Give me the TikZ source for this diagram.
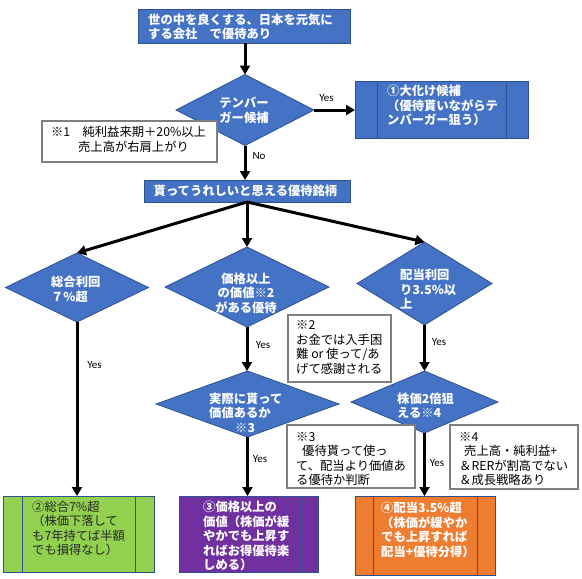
\documentclass[tikz,border=0pt]{standalone}
\usepackage{fontspec}
\setmainfont{Noto Sans CJK JP}
\newfontfamily\latfont{Carlito}
\usetikzlibrary{shapes.geometric,arrows.meta}
\definecolor{fblue}{HTML}{4472C4}
\definecolor{bblue}{HTML}{2F528F}
\definecolor{fgreen}{HTML}{92D050}
\definecolor{fpurple}{HTML}{7030A0}
\definecolor{forange}{HTML}{ED7D31}
\definecolor{ngray}{HTML}{7F7F7F}
\newcommand\jfs{\fontsize{12.3}{14.5}\selectfont}
\begin{document}
\begin{tikzpicture}[x=1pt,y=-1pt,
  bluebox/.style={rectangle, draw=bblue, line width=1pt, fill=fblue, inner sep=0pt, outer sep=0pt},
  dia/.style={diamond, draw=bblue, line width=0.8pt, fill=fblue, inner sep=0pt, outer sep=0pt},
  note/.style={rectangle, draw=ngray, line width=1.3pt, fill=white, inner sep=0pt, outer sep=0pt},
  pproc/.style={rectangle, draw=bblue, line width=1pt, inner sep=0pt, outer sep=0pt,
    path picture={\draw[bblue, line width=1pt]
      ([xshift=#1]path picture bounding box.north west) -- ([xshift=#1]path picture bounding box.south west)
      ([xshift=-#1]path picture bounding box.north east) -- ([xshift=-#1]path picture bounding box.south east);}},
  wt/.style={inner sep=0pt, align=left, text=white, font=\jfs\bfseries},
  wtc/.style={wt, align=center},
  bt/.style={inner sep=0pt, align=left, text=black, font=\jfs},
  lbl/.style={inner sep=0pt, font=\latfont\fontsize{11}{13}\selectfont},
  arr/.style={line width=3pt, -{Triangle[length=9pt,width=10pt]}}
]
\fill[white] (0,0) rectangle (582,579);
\useasboundingbox (0,0) rectangle (582,579);

% top box
\node[bluebox, minimum width=212pt, minimum height=34pt] (b0) at (244,26) {};
\node[wt, anchor=west] (t0) at (148,27) {世の中を良くする、日本を元気に\\する会社　で優待あり};

% diamond 1
\node[dia, minimum width=138pt, minimum height=71pt] (d1) at (245,110) {};
\node[wtc] (t1) at (244,110.5) {テンバー\\ガー候補};

% box 1
\node[bluebox, pproc=22pt, minimum width=173pt, minimum height=57pt] (b1) at (441.5,109.5) {};
\node[wt, anchor=west] (t2) at (387,105.5) {①大化け候補\\（優待貰いながらテ\\ンバーガー狙う）};

% box 2
\node[bluebox, minimum width=206pt, minimum height=22pt] (b2) at (247,191) {};
\node[wtc] (t3) at (245.5,191) {貰ってうれしいと思える優待銘柄};

% diamonds row
\node[dia, minimum width=143pt, minimum height=69pt] (d2) at (77,287.5) {};
\node[wt, anchor=west] (t4) at (51,289.5) {総合利回\\７\%超};

\node[dia, minimum width=164pt, minimum height=80pt] (d3) at (247,287) {};
\node[wtc] (t5) at (246,293) {価格以上\\の価値※2\\がある優待};

\node[dia, minimum width=135pt, minimum height=83pt] (d4) at (424.5,283.5) {};
\node[wt, anchor=west] (t6) at (400,289.5) {配当利回\\り3.5\%以\\上};

\node[dia, minimum width=183pt, minimum height=66pt] (d5) at (247.5,404) {};
\node[wt, anchor=west] (t7) at (209,412.5) {実際に貰って\\価値あるか\\\hspace*{26pt}※3};

\node[dia, minimum width=147pt, minimum height=62pt] (d6) at (424.5,402) {};
\node[wt, anchor=west] (t8) at (397,405.5) {株価2倍狙\\える※4};

% result boxes
\node[pproc=19pt, fill=fgreen, minimum width=151pt, minimum height=76pt] (g) at (78.5,534) {};
\node[bt, anchor=west, text=black!85] (tg) at (32,528.5) {②総合7\%超\\（株価下落して\\も7年持てば半額\\でも損得なし）};

\node[pproc=18pt, fill=fpurple, minimum width=139pt, minimum height=76pt] (p) at (248.5,534) {};
\node[wt, anchor=west] (tp) at (203,536) {③価格以上の\\価値（株価が緩\\やかでも上昇す\\ればお得優待楽\\しめる）};

\node[pproc=18pt, fill=forange, minimum width=140pt, minimum height=79pt] (o) at (425,535.5) {};
\node[wt, anchor=west] (to) at (381,530) {④配当3.5\%超\\（株価が緩やか\\でも上昇すれば\\配当+優待分得）};

% arrows
\draw[arr] (d1.north |- b0.south) -- (d1.north);
\draw[arr] (d1.east) -- (d1.east -| b1.west);
\draw[arr] (d1.south) -- (d1.south |- b2.north);
\draw[arr] (b2.south) -- (d2.north);
\draw[arr] (b2.south) -- (d3.north);
\draw[arr] (b2.south) -- (d4.north);
\draw[arr] (d2.south) -- (d2.south |- g.north);
\draw[arr] (d3.south) -- (d3.south |- d5.north);
\draw[arr] (d5.south) -- (d5.south |- p.north);
\draw[arr] (d4.south) -- (d6.north);
\draw[arr] (d6.south) -- (d6.south |- o.north);

% labels
\node[lbl] (y1) at (326.5,98) {Yes};
\node[lbl] (no) at (259,156) {No};
\node[lbl] (y2) at (94.5,365) {Yes};
\node[lbl] (y3) at (263,345) {Yes};
\node[lbl] (y4) at (260,459) {Yes};
\node[lbl] (y5) at (439,342) {Yes};
\node[lbl] (y6) at (437,463) {Yes};

% notes
\node[note, minimum width=175pt, minimum height=41pt] (n1) at (129.5,141.5) {};
\node[bt, anchor=west] (tn1) at (51,139.5) {※1　純利益来期＋20\%以上\\\hspace*{27pt}売上高が右肩上がり};

\node[note, minimum width=103pt, minimum height=67pt] (n2) at (339.5,348.5) {};
\node[bt, anchor=west] (tn2) at (296,347.5) {※2\\お金では入手困\\難 or 使って/あ\\げて感謝される};

\node[note, minimum width=128pt, minimum height=63pt] (n3) at (351,456.5) {};
\node[bt, anchor=west] (tn3) at (296,459) {※3\\\hspace*{6pt}優待貰って使っ\\て、配当より価値あ\\る優待か判断};

\node[note, minimum width=128pt, minimum height=64pt] (n4) at (514,457) {};
\node[bt, anchor=west] (tn4) at (459,459) {※4\\\hspace*{5pt}売上高・純利益+\\＆RERが割高でない\\＆成長戦略あり};
\end{tikzpicture}
\end{document}
